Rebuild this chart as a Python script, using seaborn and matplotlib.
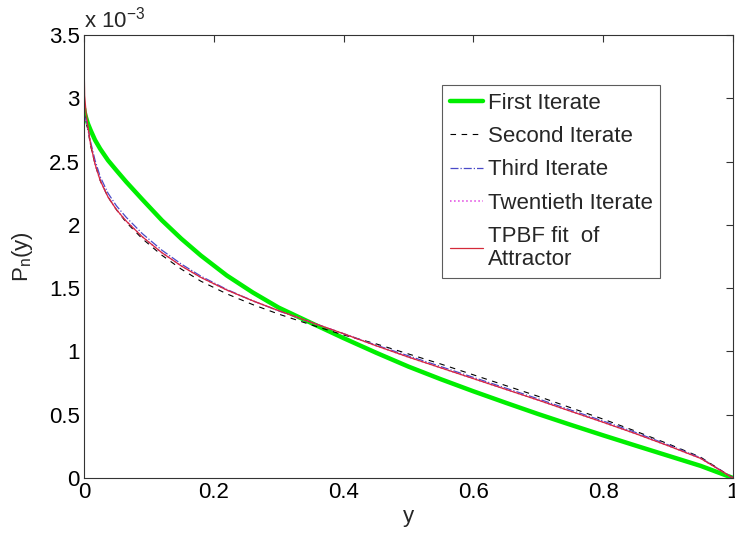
import numpy as np
import pandas as pd
import matplotlib
matplotlib.use("Agg")
import matplotlib.pyplot as plt
import seaborn as sns
from matplotlib.ticker import FuncFormatter

# ---- data (P_n(y) in units of 1e-3) ----
y_grid = [0, 0.001, 0.003, 0.006, 0.01, 0.017, 0.025, 0.037, 0.05, 0.065, 0.09, 0.12,
          0.15, 0.18, 0.22, 0.26, 0.3, 0.35, 0.4, 0.45, 0.5, 0.55, 0.6, 0.65, 0.7,
          0.75, 0.8, 0.85, 0.9, 0.95, 1.0]
first_iter = [2.92, 2.89, 2.85, 2.80, 2.75, 2.67, 2.60, 2.51, 2.43, 2.34, 2.20, 2.036,
              1.89, 1.758, 1.60, 1.466, 1.346, 1.225, 1.105, 0.99, 0.88, 0.78, 0.685, 0.594,
              0.505, 0.42, 0.337, 0.256, 0.176, 0.096, 0.0]
second_iter = [2.88, 2.86, 2.82, 2.75, 2.63, 2.48, 2.35, 2.22, 2.12, 2.02, 1.89, 1.76,
               1.65, 1.555, 1.455, 1.37, 1.295, 1.21, 1.13, 1.06, 0.98, 0.90, 0.815, 0.73,
               0.645, 0.555, 0.465, 0.37, 0.27, 0.165, 0.0]
third_iter = [2.86, 2.85, 2.83, 2.77, 2.66, 2.51, 2.38, 2.25, 2.15, 2.06, 1.93, 1.80,
              1.69, 1.595, 1.49, 1.40, 1.32, 1.23, 1.14, 1.05, 0.965, 0.88, 0.795, 0.71,
              0.625, 0.537, 0.45, 0.36, 0.262, 0.16, 0.0]
twentieth_iter = [2.86, 2.85, 2.83, 2.76, 2.64, 2.48, 2.35, 2.22, 2.12, 2.03, 1.905, 1.78,
                  1.675, 1.585, 1.485, 1.40, 1.322, 1.23, 1.14, 1.045, 0.955, 0.87, 0.785,
                  0.70, 0.615, 0.527, 0.44, 0.35, 0.255, 0.155, 0.0]
tpbf_fit = [3.33, 3.02, 2.90, 2.78, 2.64, 2.48, 2.35, 2.22, 2.12, 2.03, 1.905, 1.78,
            1.675, 1.585, 1.485, 1.40, 1.322, 1.23, 1.14, 1.045, 0.955, 0.87, 0.785,
            0.70, 0.615, 0.527, 0.44, 0.35, 0.255, 0.155, 0.0]

labels = ["First Iterate", "Second Iterate", "Third Iterate", "Twentieth Iterate",
          "TPBF fit  of\nAttractor"]
series = [first_iter, second_iter, third_iter, twentieth_iter, tpbf_fit]
styles = [dict(color="#00ee00", lw=3.2, ls="-"),
          dict(color="black", lw=0.8, ls=(0, (5, 5))),
          dict(color="#4a4ac8", lw=0.9, ls="-."),
          dict(color="#e040e0", lw=1.1, ls=":"),
          dict(color="#d42a3a", lw=0.9, ls="-")]

sns.set_style("white")
plt.rcParams["font.family"] = ["Liberation Sans", "DejaVu Sans"]
plt.rcParams["mathtext.fontset"] = "custom"
plt.rcParams["mathtext.rm"] = "Liberation Sans"
plt.rcParams["mathtext.it"] = "Liberation Sans"

fig = plt.figure(figsize=(7.35, 5.33), dpi=100)
ax = fig.add_axes([84 / 735, 1 - 478 / 533, 649 / 735, 443 / 533])

for lab, vals, st in zip(labels, series, styles):
    df = pd.DataFrame({"y": y_grid, "P": np.array(vals) * 1e-3})
    sns.lineplot(data=df, x="y", y="P", ax=ax, label=lab, color=st["color"],
                 linewidth=st["lw"], linestyle=st["ls"], estimator=None, sort=False)

ax.set_xlim(0, 1)
ax.set_ylim(0, 3.5e-3)
ax.set_xticks([0, 0.2, 0.4, 0.6, 0.8, 1.0])
ax.set_yticks(np.arange(0, 3.51e-3, 0.5e-3))
ax.xaxis.set_major_formatter(FuncFormatter(lambda v, p: f"{v:g}"))
ax.yaxis.set_major_formatter(FuncFormatter(lambda v, p: f"{round(v * 1e3, 3):g}"))
fs = 16
ax.tick_params(direction="in", length=5, width=0.8, labelsize=fs, pad=3,
               top=True, right=True, colors="#333333", labelcolor="black")
for s in ax.spines.values():
    s.set_color("#333333")
    s.set_linewidth(0.8)
ax.set_xlabel("y", fontsize=fs, labelpad=2)
ax.set_ylabel(r"P$_\mathrm{n}$(y)", fontsize=fs, labelpad=10)
ax.text(0.0, 1.005, r"x 10$^{-3}$", transform=ax.transAxes, fontsize=fs,
        ha="left", va="bottom")

leg = ax.legend(loc="upper left", bbox_to_anchor=(0.552, 0.887), borderaxespad=0,
                fontsize=fs, frameon=True, fancybox=False, shadow=False,
                handlelength=1.5, handletextpad=0.2, labelspacing=0.55,
                borderpad=0.35)
leg.get_frame().set_edgecolor("#333333")
leg.get_frame().set_linewidth(0.8)
for t in leg.get_texts():
    t.set_linespacing(1.15)

fig.savefig("out.png", dpi=100)
